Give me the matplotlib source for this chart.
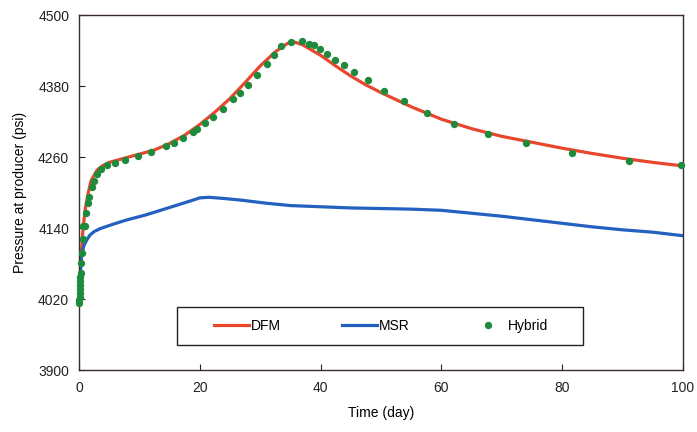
import numpy as np
import matplotlib
matplotlib.use('Agg')
import matplotlib.pyplot as plt
from matplotlib.patches import Rectangle

plt.rcParams['font.family'] = ['Liberation Sans', 'DejaVu Sans']
plt.rcParams['font.size'] = 10
plt.rcParams['xtick.direction'] = 'in'
plt.rcParams['ytick.direction'] = 'in'

# DFM pressure response
dfm_t = [0, 0.3, 0.6, 1.0, 1.5, 2.0, 3.0, 4.0, 5.0, 7.5, 10, 12.5, 15, 17.5, 20, 22.5, 25,
         27.5, 30, 32.5, 34.5, 35.5, 37, 40, 42.5, 45, 47.5, 50, 55, 60, 65, 70, 75, 80, 85,
         90, 95, 100]
dfm_p = [4030, 4080, 4130, 4170, 4198, 4220, 4238, 4246, 4251, 4258, 4265, 4272, 4283, 4297,
         4315, 4336, 4359, 4386, 4414, 4438, 4452, 4455, 4450, 4432, 4414, 4397, 4382, 4369,
         4345, 4324, 4308, 4295, 4285, 4275, 4266, 4258, 4251, 4245]

# MSR pressure response
msr_t = [0, 0.2, 0.4, 0.8, 1.3, 1.8, 2.5, 3.5, 5.5, 8, 11, 13.5, 16, 18.5, 20, 21.5, 24, 27,
         31, 35, 40, 45, 50, 55, 60, 65, 70, 75, 80, 85, 90, 95, 100]
msr_p = [4025, 4060, 4091, 4110, 4120, 4128, 4134, 4139, 4146, 4154, 4162, 4170, 4178, 4186,
         4191, 4192, 4190, 4187, 4182, 4178, 4176, 4174, 4173, 4172, 4170, 4165, 4160, 4154,
         4148, 4142, 4137, 4133, 4127]

# Hybrid model samples
hyb_t = [0.0, 0.05, 0.1, 0.1, 0.15, 0.2, 0.2, 0.25, 0.3, 0.33, 0.44, 0.6, 1.0, 0.7, 1.16,
         1.55, 1.7, 2.1, 2.5, 3.0, 3.6, 4.6, 6.0, 7.6, 9.7, 11.9, 14.4, 15.8, 17.3, 18.9, 19.6,
         20.9, 22.2, 23.9, 25.5, 26.7, 27.9, 29.4, 31.1, 32.3, 33.4, 35.1, 37.0, 38.1, 38.9,
         39.9, 41.1, 42.4, 43.9, 45.6, 47.9, 50.5, 53.8, 57.6, 62.1, 67.7, 74.0, 81.6, 91.1,
         99.7]
hyb_p = [4013, 4018, 4024, 4030, 4037, 4043, 4050, 4057, 4064, 4081, 4098, 4121, 4143, 4143,
         4166, 4182, 4193, 4210, 4220, 4231, 4239, 4246, 4250, 4255, 4261, 4268, 4278, 4284,
         4293, 4302, 4308, 4317, 4327, 4341, 4358, 4368, 4382, 4399, 4418, 4432, 4448, 4455,
         4456, 4452, 4449, 4442, 4434, 4424, 4415, 4403, 4390, 4372, 4355, 4335, 4316, 4299,
         4283, 4267, 4253, 4246]

fig = plt.figure(figsize=(6.97, 4.32), dpi=100)
ax = fig.add_axes([0.1133, 0.1435, 0.8667, 0.8215])

ax.plot(dfm_t, dfm_p, color='#e8472e', linewidth=2.3, label='DFM', zorder=2)
ax.plot(msr_t, msr_p, color='#2360c0', linewidth=2.3, label='MSR', zorder=2)
ax.plot(hyb_t, hyb_p, linestyle='none', marker='o', markersize=5.3, color='#1e8a3c',
        markeredgewidth=0, label='Hybrid', zorder=3, clip_on=False)

ax.set_xlim(0, 100)
ax.set_ylim(3900, 4500)
ax.set_xticks([0, 20, 40, 60, 80, 100])
ax.set_yticks([3900, 4020, 4140, 4260, 4380, 4500])
ax.tick_params(length=4, width=0.8, colors='#222222', pad=7, labelsize=10)
ax.tick_params(axis='x', pad=8)

for side in ['left', 'right', 'top', 'bottom']:
    ax.spines[side].set_color('#3a2c2c')
    ax.spines[side].set_linewidth(1.0)

ax.set_xlabel('Time (day)', fontsize=10, labelpad=8)
ax.set_ylabel('Pressure at producer (psi)', fontsize=10, labelpad=8)

# legend box drawn separately so the entries can sit well inside it
ax.add_patch(Rectangle((0.162, 0.07), 0.672, 0.107, transform=ax.transAxes, fill=False,
                       edgecolor='#222222', linewidth=1.0, zorder=4))
leg = ax.legend(loc='center', bbox_to_anchor=(0.5, 0.1235), ncol=3, frameon=False,
                handlelength=2.5, handletextpad=0.15, columnspacing=4.4, fontsize=10,
                borderaxespad=0)

fig.savefig('out.png', dpi=100)
